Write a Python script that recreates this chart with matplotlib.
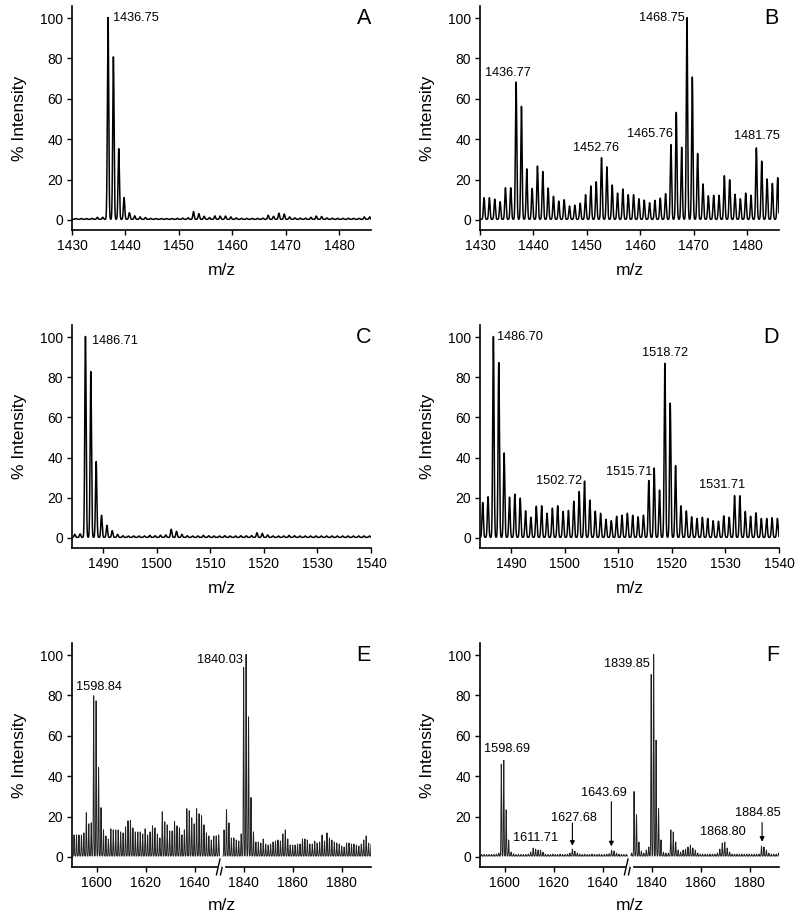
import numpy as np
import matplotlib
matplotlib.use("Agg")
import matplotlib.pyplot as plt

plt.rcParams['font.family'] = ['Liberation Sans', 'DejaVu Sans']

# ---- data: relative intensities of each isotope/ladder peak (1 Da apart) ----
a_start = 1430.75
a_int = [0.4, 0.4, 0.4, 0.5, 1.0, 1.0, 100, 80.5, 35, 10.8, 3.3, 1.7, 1.2, 0.9,
         0.5, 0.4, 0.4, 0.4, 0.4, 0.5, 0.6, 0.8, 3.8, 2.8, 1.5, 0.9, 1.7, 1.6,
         1.6, 1.2, 0.7, 0.5, 0.5, 0.5, 0.5, 0.6, 2.0, 1.5, 3.0, 2.6, 1.2, 0.7,
         0.6, 0.6, 1.0, 1.6, 1.4, 0.7, 0.6, 0.5, 0.5, 0.6, 0.5, 0.5, 1.2, 1.2]

b_start = 1430.76
b_int = [10.7, 10.7, 10, 8.7, 15.6, 15.6, 68, 56, 25, 15.3, 26.4, 23.7, 15.5,
         11.4, 9, 9.7, 6.6, 7, 8, 12.2, 16.5, 18.6, 30.5, 26, 17, 13, 15, 12.2,
         12.2, 10.2, 9.5, 8.2, 9.4, 10.5, 12.7, 37, 53, 35.7, 100, 70.5, 32.6,
         17.5, 11.7, 11.9, 11.9, 21.6, 19.6, 12.4, 10.2, 13, 11.9, 35.4, 28.8,
         20, 17.8, 20.6]

c_start = 1484.71
c_int = [1.5, 1.7, 100, 82.5, 37.7, 11, 6, 3.3, 1.5, 0.8, 0.7, 0.7, 0.7, 0.7,
         1.0, 0.8, 1.1, 1.2, 4.0, 3.0, 1.5, 0.8, 0.7, 0.7, 1.0, 0.8, 0.7, 0.7,
         0.8, 0.7, 0.7, 0.8, 0.8, 0.9, 2.3, 2.0, 1.2, 0.7, 0.7, 0.7, 1.0, 0.8,
         0.7, 0.7, 0.7, 0.7, 0.7, 0.7, 0.7, 0.7, 0.7, 0.7, 0.7, 0.7, 0.7, 0.7]

d_start = 1484.70
d_int = [17.4, 20.2, 100, 87, 42, 20, 21.5, 19.5, 13.2, 10, 15.5, 15.7, 12,
         14.5, 15.7, 12.9, 13.4, 18, 22.8, 28, 18.5, 13, 12, 9, 8.3, 10.5, 11,
         12, 11, 10.2, 11, 28.3, 34.5, 23.5, 86.6, 66.8, 35.7, 15.7, 13.2, 10.2,
         9.4, 10, 9.4, 8.3, 8, 10.7, 10, 20.8, 20.7, 12.9, 10.5, 12.2, 9.4, 9.4,
         9.8, 9.4]

e_lo_start = 1590.84
e_lo_int = [10.5, 10.5, 10.5, 10.5, 11.5, 21.5, 16, 16.5, 79.5, 77, 44, 24, 13,
            10, 8.5, 13.5, 13, 13, 13, 12, 11.5, 14.5, 17.5, 17.8, 14, 12, 12,
            12, 11, 13.5, 10.5, 12, 15, 14, 11, 9, 22, 17, 15.5, 12.5, 12.5,
            17.2, 15, 14, 10.5, 13, 23.5, 22.5, 19, 16, 23.5, 21, 20, 15.5,
            11.5, 10, 8, 10, 10, 10.5]
e_hi_start = 1832.03
e_hi_int = [13, 23, 16.5, 9, 9, 8, 7.5, 11, 93.5, 100, 69, 29, 12, 7, 7, 6.5,
            8.5, 6, 5.5, 6, 7, 7.5, 8, 7.5, 11, 13, 8.5, 5.5, 5.5, 5.5, 6, 6,
            8.5, 8.5, 8, 6, 6, 7.5, 6.5, 7, 10.5, 7.5, 11.5, 9, 8, 7, 6.5, 6,
            5, 4.5, 6.5, 6.5, 6, 6, 5.5, 5, 6, 8, 10, 6.5, 6]

f_lo_start = 1590.69
f_lo_int = [0.8, 0.8, 0.8, 0.8, 0.8, 0.8, 1.0, 1.5, 45.5, 47.5, 23, 8, 2, 1.2,
            0.8, 0.8, 0.8, 0.8, 0.8, 1.0, 2, 4, 3.5, 3, 3, 2, 1, 0.8, 0.8, 1.0,
            0.8, 0.8, 1.0, 0.8, 0.8, 1.0, 1.5, 3.5, 2.5, 1.5, 1.0, 0.8, 1.0,
            0.8, 0.8, 1.0, 0.8, 0.8, 1.0, 0.8, 0.8, 1.0, 1.2, 3, 2.5, 1.5, 1,
            0.8, 0.8, 0.8]
f_hi_start = 1831.85
f_hi_int = [1.5, 32, 20.5, 7, 2.5, 1.5, 3, 4.5, 90, 100, 57.5, 23.5, 8, 2, 1.5,
            1.5, 13, 12, 7, 3, 2, 3, 3.5, 4.5, 5.5, 4, 3, 1.5, 1, 1, 1, 1, 1,
            1, 1, 1.5, 3.5, 6.5, 7, 4, 2, 1, 1, 1, 1, 1, 1, 1, 1, 1, 1, 1, 1,
            5, 4.5, 3, 1.5, 1, 1, 1, 1.5]

# labels: (text, x, y, ha, va)
a_labels = [("1436.75", 1437.6, 100, "left", "center")]
b_labels = [("1436.77", 1435.3, 70, "center", "bottom"),
            ("1452.76", 1451.8, 32.5, "center", "bottom"),
            ("1465.76", 1466.2, 39.5, "right", "bottom"),
            ("1468.75", 1468.3, 100, "right", "center"),
            ("1481.75", 1481.9, 38.5, "center", "bottom")]
c_labels = [("1486.71", 1488.0, 98, "left", "center")]
d_labels = [("1486.70", 1487.4, 100, "left", "center"),
            ("1502.72", 1503.2, 25.5, "right", "bottom"),
            ("1515.71", 1516.4, 30, "right", "bottom"),
            ("1518.72", 1518.7, 89, "center", "bottom"),
            ("1531.71", 1529.4, 23.5, "center", "bottom")]
e_lo_labels = [("1598.84", 1600.9, 81, "center", "bottom")]
e_hi_labels = [("1840.03", 1839.8, 97.5, "right", "center")]
f_lo_labels = [("1598.69", 1600.9, 50.5, "center", "bottom"),
               ("1611.71", 1612.8, 9.5, "center", "center"),
               ("1627.68", 1628.2, 19.2, "center", "center"),
               ("1643.69", 1640.7, 31.5, "center", "center")]
f_hi_labels = [("1839.85", 1839.3, 95.5, "right", "center"),
               ("1868.80", 1869.2, 12.5, "center", "center"),
               ("1884.85", 1883.3, 22, "center", "center")]
# arrows: (x, y_from, y_to)
f_lo_arrows = [(1627.7, 16.8, 5.5), (1643.6, 27.4, 5.2)]
f_hi_arrows = [(1885.1, 17.0, 7.5)]

W, H = 800, 919


def rect(l, t, r, b):
    return [l / W, 1 - b / H, (r - l) / W, (b - t) / H]


def spectrum(start, heights, lo, hi, sigma, base):
    mz = start + np.arange(len(heights))
    x = np.linspace(lo, hi, 8000)
    y = np.full_like(x, base)
    for m, h in zip(mz, heights):
        y += h * np.exp(-0.5 * ((x - m) / sigma) ** 2)
    return x, y


def style(ax, left=True):
    for s in ["top", "right"]:
        ax.spines[s].set_visible(False)
    ax.spines["bottom"].set_linewidth(1.2)
    ax.spines["left"].set_linewidth(1.2)
    ax.set_ylim(-5, 106)
    ax.tick_params(direction="out", length=3.5, width=1, labelsize=10, pad=3)
    if left:
        ax.set_yticks([0, 20, 40, 60, 80, 100])
        ax.set_ylabel("% Intensity", fontsize=12.5, labelpad=9)
    else:
        ax.spines["left"].set_visible(False)
        ax.set_yticks([])


def add_labels(ax, labels):
    for t, x, y, ha, va in labels:
        ax.text(x, y, t, ha=ha, va=va, fontsize=9.2)


def add_arrows(ax, arrows):
    for x, y0, y1 in arrows:
        ax.annotate("", xy=(x, y1), xytext=(x, y0),
                    arrowprops=dict(arrowstyle="-|>", lw=0.8, color="k",
                                    mutation_scale=7, shrinkA=0, shrinkB=0))


def letter(ax, s):
    ax.text(1.0, 0.946, s, transform=ax.transAxes, ha="right", va="center",
            fontsize=15.5)


fig = plt.figure(figsize=(8, 9.19), dpi=100)

simple = [
    ("A", rect(72, 6, 371, 230), a_start, a_int, (1430, 1486), range(1430, 1481, 10), a_labels),
    ("B", rect(480, 6, 779, 230), b_start, b_int, (1430, 1486), range(1430, 1481, 10), b_labels),
    ("C", rect(72, 325, 371, 548), c_start, c_int, (1484.2, 1540), range(1490, 1541, 10), c_labels),
    ("D", rect(480, 325, 779, 548), d_start, d_int, (1484.2, 1540), range(1490, 1541, 10), d_labels),
]
for name, r, start, ints, xl, ticks, labels in simple:
    ax = fig.add_axes(r)
    x, y = spectrum(start, ints, xl[0], xl[1], 0.125, 0.3)
    ax.plot(x, y, color="k", lw=1.1)
    ax.set_xlim(*xl)
    ax.set_xticks(list(ticks))
    style(ax)
    ax.set_xlabel("m/z", fontsize=12.5, labelpad=7)
    add_labels(ax, labels)
    letter(ax, name)

broken = [
    ("E", 72, 643, 371, 867, e_lo_start, e_lo_int, e_hi_start, e_hi_int,
     e_lo_labels, e_hi_labels, [], []),
    ("F", 480, 643, 779, 867, f_lo_start, f_lo_int, f_hi_start, f_hi_int,
     f_lo_labels, f_hi_labels, f_lo_arrows, f_hi_arrows),
]
for name, l, t, r, b, s1, i1, s2, i2, lab1, lab2, arr1, arr2 in broken:
    mid = (l + r) / 2
    ax1 = fig.add_axes(rect(l, t, mid, b))
    ax2 = fig.add_axes(rect(mid, t, r, b))
    x, y = spectrum(s1, i1, 1590, 1650.2, 0.12, 0.4)
    ax1.plot(x, y, color="#222222", lw=0.7)
    x, y = spectrum(s2, i2, 1831.6, 1892, 0.12, 0.4)
    ax2.plot(x, y, color="#222222", lw=0.7)
    ax1.set_xlim(1590, 1651)
    ax2.set_xlim(1831, 1892)
    ax1.set_xticks([1600, 1620, 1640])
    ax2.set_xticks([1840, 1860, 1880])
    style(ax1)
    style(ax2, left=False)
    ax1.spines["bottom"].set_bounds(1590, 1649.3)
    ax2.spines["bottom"].set_bounds(1832.8, 1892)
    ax1.set_xlabel("m/z", fontsize=12.5)
    ax1.xaxis.set_label_coords(1.0, -0.14)
    add_labels(ax1, lab1)
    add_labels(ax2, lab2)
    add_arrows(ax1, arr1)
    add_arrows(ax2, arr2)
    letter(ax2, name)
    # break marks //
    for dx in (-0.022, 0.005):
        ax1.plot([1.0 + dx - 0.012, 1.0 + dx + 0.012], [-0.035, 0.035],
                 transform=ax1.transAxes, color="k", lw=1.0, clip_on=False)

fig.savefig("out.png", dpi=100)
